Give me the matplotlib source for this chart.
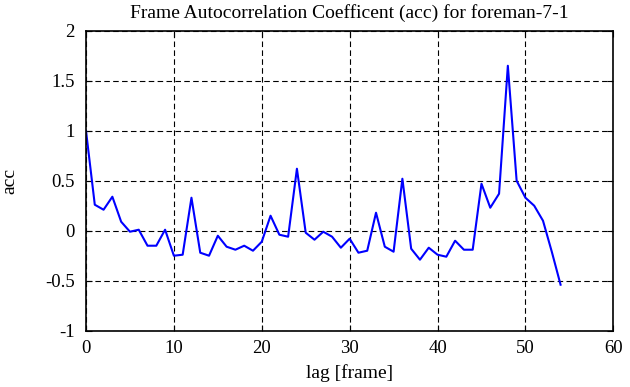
import numpy as np
import matplotlib
matplotlib.use('Agg')
import matplotlib.pyplot as plt

plt.rcParams['font.family'] = ['Liberation Serif', 'DejaVu Serif']

# autocorrelation values
lag = np.arange(0, 55)
acc = [1.00, 0.26, 0.21, 0.34, 0.09, -0.01, 0.01, -0.15, -0.15, 0.01,
       -0.25, -0.24, 0.33, -0.22, -0.25, -0.05, -0.16, -0.19, -0.15, -0.20,
       -0.11, 0.15, -0.04, -0.06, 0.62, -0.02, -0.09, -0.01, -0.06, -0.17,
       -0.08, -0.22, -0.20, 0.18, -0.16, -0.21, 0.52, -0.18, -0.29, -0.17,
       -0.24, -0.26, -0.10, -0.19, -0.19, 0.47, 0.23, 0.37, 1.65, 0.50,
       0.33, 0.25, 0.10, -0.21, -0.54]

fig = plt.figure(figsize=(6.3, 3.87), dpi=100)
ax = fig.add_axes([0.1365, 0.1455, 0.837, 0.775])
ax.plot(lag, acc, color='#0000ff', lw=1.5)

ax.set_xlim(0, 60)
ax.set_ylim(-1, 2)
ax.set_xticks(np.arange(0, 61, 10))
ax.set_yticks(np.arange(-1, 2.01, 0.5))
ax.set_yticklabels(['-1', '-0.5', '0', '0.5', '1', '1.5', '2'])
ax.grid(True, color='black', linestyle=(0, (5, 3)), linewidth=0.8)
ax.tick_params(direction='in', top=True, right=True, labelsize=13.5, length=4)
ax.tick_params(axis='y', pad=8)
ax.tick_params(axis='x', pad=7)
for s in ax.spines.values():
    s.set_linewidth(1.2)

ax.set_title('Frame Autocorrelation Coefficent (acc) for foreman-7-1', fontsize=14, pad=9)
ax.set_xlabel('lag [frame]', fontsize=14)
ax.set_ylabel('acc', fontsize=14)
ax.xaxis.set_label_coords(0.5, -0.11)
ax.yaxis.set_label_coords(-0.129, 0.5)

fig.savefig('out.png', dpi=100)
